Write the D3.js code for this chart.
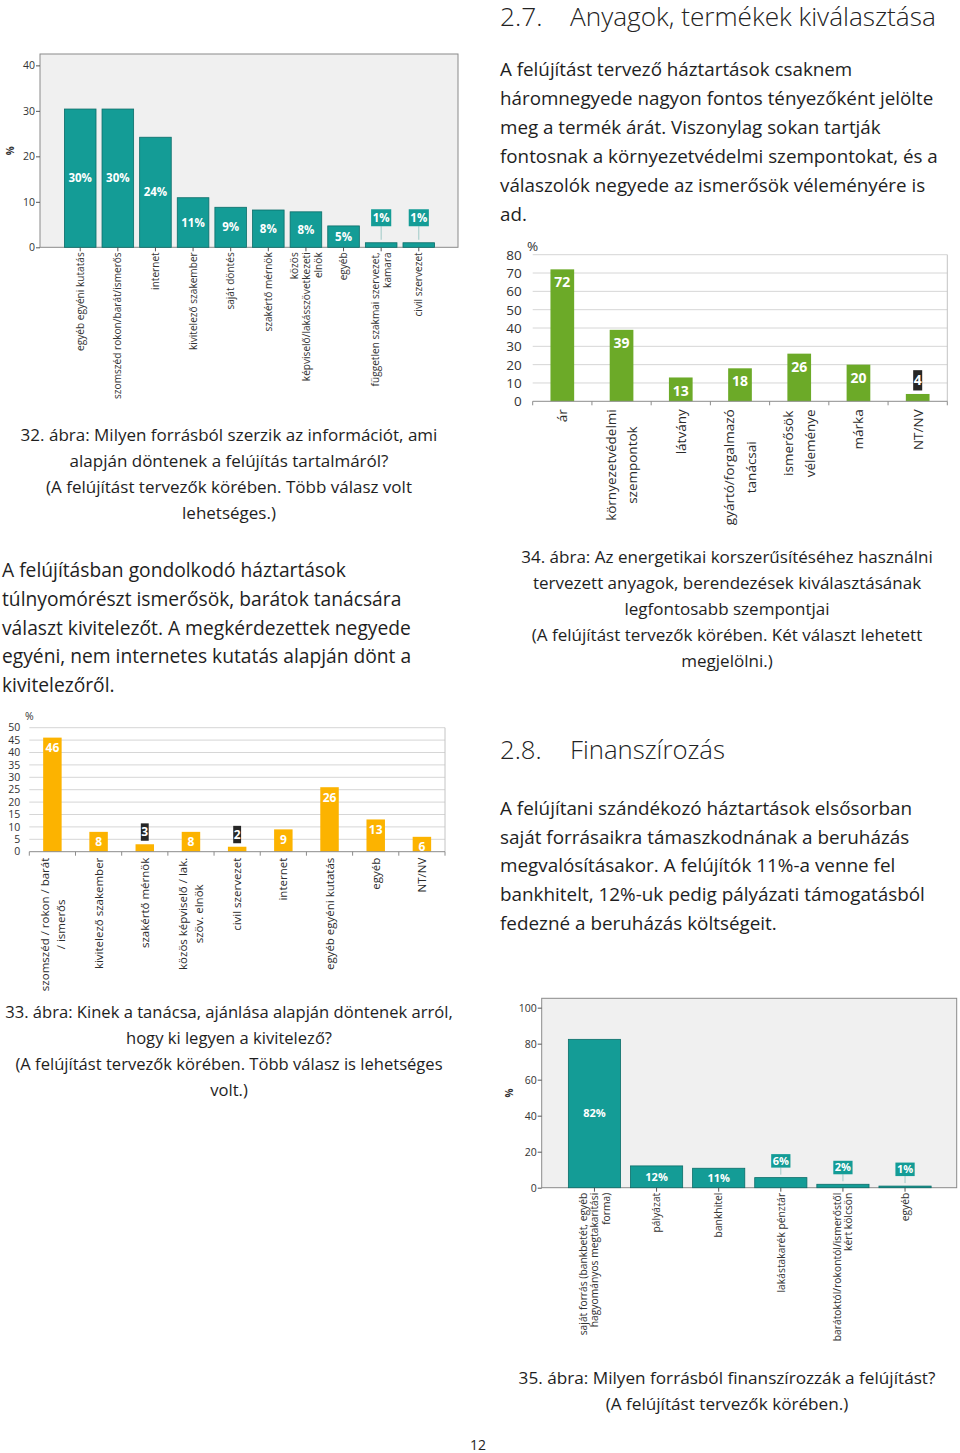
<!DOCTYPE html>
<html><head><meta charset="utf-8">
<script src="https://cdn.jsdelivr.net/npm/d3@7"></script>
<style>body{margin:0;background:#fff} svg{display:block}</style>
</head><body>
<svg id="page" width="960" height="1453"></svg>
<script>
// ---------- DATA ----------
const c32Cats = [["egyéb egyéni kutatás"],["szomszéd rokon/barát/ismerős"],["internet"],["kivitelező szakember"],["saját döntés"],["szakértő mérnök"],["közös","képviselő/lakásszövetkezeti","elnök"],["egyéb"],["független szakmai szervezet,","kamara"],["civil szervezet"]];
const c32Vals = [30.4,30.4,24.2,10.9,8.8,8.2,7.8,4.7,1.0,1.0];
const c32Ticks = [0,10,20,30,40];

const c34Cats = [["ár"],["környezetvédelmi","szempontok"],["látvány"],["gyártó/forgalmazó","tanácsai"],["ismerősök","véleménye"],["márka"],["NT/NV"]];
const c34Vals = [72,39,13,18,26,20,4];
const c34Ticks = [0,10,20,30,40,50,60,70,80];

const c33Cats = [["szomszéd / rokon / barát","/ ismerős"],["kivitelező szakember"],["szakértő mérnök"],["közös képviselő / lak.","szöv. elnök"],["civil szervezet"],["internet"],["egyéb egyéni kutatás"],["egyéb"],["NT/NV"]];
const c33Vals = [46,8,3,8,2,9,26,13,6];
const c33Ticks = [0,5,10,15,20,25,30,35,40,45,50];

const c35Cats = [["saját forrás (bankbetét, egyéb","hagyományos megtakarítási","forma)"],["pályázat"],["bankhitel"],["lakástakarék pénztár"],["barátoktól/rokontól/ismerőstől","kért kölcsön"],["egyéb"]];
const c35Vals = [82.4,12.1,10.8,5.6,1.9,0.9];
const c35Ticks = [0,20,40,60,80,100];

// ---------- TEXT ----------
const heading1 = ["2.7.", "Anyagok, termékek kiválasztása"];
const heading2 = ["2.8.", "Finanszírozás"];
const para1 = ["A felújítást tervező háztartások csaknem","háromnegyede nagyon fontos tényezőként jelölte","meg a termék árát. Viszonylag sokan tartják","fontosnak a környezetvédelmi szempontokat, és a","válaszolók negyede az ismerősök véleményére is","ad."];
const para2 = ["A felújításban gondolkodó háztartások","túlnyomórészt ismerősök, barátok tanácsára","választ kivitelezőt. A megkérdezettek negyede","egyéni, nem internetes kutatás alapján dönt a","kivitelezőről."];
const para3 = ["A felújítani szándékozó háztartások elsősorban","saját forrásaikra támaszkodnának a beruházás","megvalósításakor. A felújítók 11%-a venne fel","bankhitelt, 12%-uk pedig pályázati támogatásból","fedezné a beruházás költségeit."];
const cap32 = ["32. ábra: Milyen forrásból szerzik az információt, ami","alapján döntenek a felújítás tartalmáról?","(A felújítást tervezők körében. Több válasz volt","lehetséges.)"];
const cap34 = ["34. ábra: Az energetikai korszerűsítéséhez használni","tervezett anyagok, berendezések kiválasztásának","legfontosabb szempontjai","(A felújítást tervezők körében. Két választ lehetett","megjelölni.)"];
const cap33 = ["33. ábra: Kinek a tanácsa, ajánlása alapján döntenek arról,","hogy ki legyen a kivitelező?","(A felújítást tervezők körében. Több válasz is lehetséges","volt.)"];
const cap35 = ["35. ábra: Milyen forrásból finanszírozzák a felújítást?","(A felújítást tervezők körében.)"];
const pageNum = "12";

// ---------- STYLE ----------
const FONT = "'Open Sans', 'Noto Sans', sans-serif";
const TEAL = "#149c96", TEAL_D = "#0b6d69";
const GREEN = "#6caa28", ORANGE = "#fcb300", DARK = "#262626";
const page = d3.select("#page").attr("font-family", FONT);

function textBlock(lines, o) {
  const g = page.append("g").attr("fill", o.fill || "#1e1e1e").attr("font-weight", o.weight || 400);
  const t = g.selectAll("text").data(lines).join("text")
    .attr("x", o.x).attr("y", (d, i) => o.y + i * o.lh)
    .attr("text-anchor", o.anchor || "start").attr("font-size", o.fs).text(d => d);
  if (o.refW) {
    const len = t.nodes()[o.ref || 0].getComputedTextLength();
    t.attr("font-size", o.fs * o.refW / len);
  }
  return t;
}

// headings
function heading(h, y, w) {
  const t = textBlock([h[1]], {x: 570, y: y, lh: 0, fs: 26, weight: 300, refW: w, fill: "#222"});
  const fs = +t.attr("font-size");
  textBlock([h[0]], {x: 500, y: y, lh: 0, fs: fs, weight: 300, fill: "#222"});
}
heading(heading1, 26, 366);
heading(heading2, 759, 155);

textBlock(para1, {x: 500, y: 76, lh: 29, fs: 18, ref: 3, refW: 438});
textBlock(para2, {x: 2, y: 577, lh: 28.8, fs: 18, ref: 2, refW: 409});
textBlock(para3, {x: 500, y: 815, lh: 28.7, fs: 18, ref: 3, refW: 425});
textBlock(cap32, {x: 229, y: 441, lh: 26, fs: 17, anchor: "middle", ref: 0, refW: 417});
textBlock(cap34, {x: 727, y: 563, lh: 26, fs: 17, anchor: "middle", ref: 0, refW: 412});
textBlock(cap33, {x: 229, y: 1018, lh: 26, fs: 17, anchor: "middle", ref: 0, refW: 448});
textBlock(cap35, {x: 727, y: 1384, lh: 26, fs: 17, anchor: "middle", ref: 0, refW: 417});
textBlock([pageNum], {x: 478, y: 1450, lh: 0, fs: 14, anchor: "middle"});

// ---------- SPSS-style chart (32, 35) ----------
function spssChart(o) {
  const g = page.append("g");
  const y = d3.scaleLinear().domain([0, o.yMax]).range([o.bottom, o.top]);
  const x = d3.scaleBand().domain(o.cats.map((d, i) => i)).range(o.band).paddingInner(0.16).paddingOuter(0.08);
  g.append("rect").attr("x", o.left).attr("y", o.top).attr("width", o.right - o.left).attr("height", o.bottom - o.top)
    .attr("fill", "#f0f0f0").attr("stroke", "#8a8a8a").attr("stroke-width", 1);
  const ax = g.append("g").attr("transform", `translate(${o.left},0)`)
    .call(d3.axisLeft(y).tickValues(o.ticks).tickSize(4).tickPadding(1));
  ax.select(".domain").remove();
  ax.selectAll(".tick line").attr("stroke", "#555");
  ax.selectAll(".tick text").attr("font-size", o.tickFs).attr("fill", "#333").attr("font-family", FONT);
  g.append("text").attr("transform", `translate(${o.pctX},${(o.top + o.bottom) / 2}) rotate(-90)`)
    .attr("text-anchor", "middle").attr("font-size", 10).attr("font-weight", 700).attr("fill", "#333").text("%");
  // bars
  g.selectAll("rect.bar").data(o.vals).join("rect").attr("class", "bar")
    .attr("x", (d, i) => x(i)).attr("width", x.bandwidth())
    .attr("y", d => y(d)).attr("height", d => o.bottom - y(d))
    .attr("fill", TEAL).attr("stroke", TEAL_D).attr("stroke-width", 0.8);
  // labels
  o.vals.forEach((v, i) => {
    const cx = x(i) + x.bandwidth() / 2, top = y(v), h = o.bottom - top;
    const lab = Math.round(v) + "%";
    if (h >= 15) {
      g.append("text").attr("x", cx).attr("y", (top + o.bottom) / 2 + o.labFs * 0.36)
        .attr("text-anchor", "middle").attr("font-size", o.labFs).attr("font-weight", 700).attr("fill", "#fff").text(lab);
    } else {
      const bh = o.boxH, bw = o.labFs * 1.75;
      const by = top - o.boxGap - bh;
      g.append("line").attr("x1", cx).attr("x2", cx).attr("y1", by + bh).attr("y2", top - 3)
        .attr("stroke", "#9ec9c6").attr("stroke-width", 1);
      g.append("rect").attr("x", cx - bw / 2).attr("y", by).attr("width", bw).attr("height", bh).attr("fill", TEAL);
      g.append("text").attr("x", cx).attr("y", by + bh / 2 + o.labFs * 0.36)
        .attr("text-anchor", "middle").attr("font-size", o.labFs).attr("font-weight", 700).attr("fill", "#fff").text(lab);
    }
  });
  // x ticks + labels
  o.cats.forEach((lines, i) => {
    const cx = x(i) + x.bandwidth() / 2;
    g.append("line").attr("x1", cx).attr("x2", cx).attr("y1", o.bottom).attr("y2", o.bottom + 4).attr("stroke", "#555");
    const lg = g.append("g").attr("transform", `translate(${cx},${o.bottom + 5}) rotate(-90)`);
    const n = lines.length;
    lines.forEach((s, j) => {
      lg.append("text").attr("x", 0).attr("y", (j - (n - 1) / 2) * o.catLh + o.catFs * 0.36)
        .attr("text-anchor", "end").attr("font-size", o.catFs).attr("fill", "#333").text(s);
    });
  });
}

spssChart({cats: c32Cats, vals: c32Vals, ticks: c32Ticks, yMax: 42.5,
  left: 40, right: 458, top: 54, bottom: 247.3, band: [61.4, 437.6], tickFs: 10.5, pctX: 14,
  labFs: 11.5, boxH: 17, boxGap: 16.5, catFs: 10.1, catLh: 12});
spssChart({cats: c35Cats, vals: c35Vals, ticks: c35Ticks, yMax: 105.2,
  left: 541.7, right: 956.7, top: 998.3, bottom: 1187.7, band: [563.4, 936.1], tickFs: 10.5, pctX: 513,
  labFs: 11, boxH: 13.5, boxGap: 10, catFs: 10.3, catLh: 11.5});

// ---------- Excel-style chart (34, 33) ----------
function excelChart(o) {
  const g = page.append("g");
  const y = d3.scaleLinear().domain([0, o.ticks[o.ticks.length - 1]]).range([o.bottom, o.top]);
  const x = d3.scaleBand().domain(o.cats.map((d, i) => i)).range([o.left, o.right]).padding(0);
  const step = x.bandwidth(), bw = step * 0.4;
  // grid
  g.selectAll("line.grid").data(o.ticks.slice(1)).join("line").attr("class", "grid")
    .attr("x1", o.left).attr("x2", o.right).attr("y1", d => y(d)).attr("y2", d => y(d))
    .attr("stroke", "#d6d6d6").attr("stroke-width", 1);
  g.append("line").attr("x1", o.right).attr("x2", o.right).attr("y1", o.top).attr("y2", o.bottom)
    .attr("stroke", "#c4c4c4");
  // y labels
  g.selectAll("text.yt").data(o.ticks).join("text").attr("class", "yt")
    .attr("x", o.left - o.tickGap).attr("y", d => y(d) + o.tickFs * 0.36)
    .attr("text-anchor", "end").attr("font-size", o.tickFs).attr("fill", "#333").text(d => d);
  g.append("text").attr("x", o.left).attr("y", o.top - o.pctGap).attr("text-anchor", "middle")
    .attr("font-size", o.tickFs).attr("fill", "#333").text("%");
  // bars
  g.selectAll("rect.bar").data(o.vals).join("rect").attr("class", "bar")
    .attr("x", (d, i) => x(i) + (step - bw) / 2).attr("width", bw)
    .attr("y", d => y(d)).attr("height", d => o.bottom - y(d)).attr("fill", o.color);
  // axis line + ticks
  g.append("line").attr("x1", o.left).attr("x2", o.right).attr("y1", o.bottom).attr("y2", o.bottom).attr("stroke", "#8c8c8c");
  const bounds = o.cats.map((d, i) => x(i)).concat([x(o.cats.length - 1) + step]);
  g.selectAll("line.xt").data(bounds).join("line").attr("class", "xt")
    .attr("x1", d => d).attr("x2", d => d).attr("y1", o.bottom).attr("y2", o.bottom + 4).attr("stroke", "#8c8c8c");
  // value labels
  o.vals.forEach((v, i) => {
    const cx = x(i) + step / 2, top = y(v), h = o.bottom - top;
    if (h >= 10) {
      g.append("text").attr("x", cx).attr("y", top + o.labOff + o.labFs * 0.36)
        .attr("text-anchor", "middle").attr("font-size", o.labFs).attr("font-weight", 700).attr("fill", "#fff").text(v);
    } else {
      const t = g.append("text").attr("x", cx).attr("text-anchor", "middle").attr("font-size", o.labFs)
        .attr("font-weight", 700).attr("fill", "#fff").text(v);
      const tw = t.node().getComputedTextLength();
      const bh = o.labFs * 1.45, cy = top - bh / 2 - 3.5;
      g.insert("rect", () => t.node()).attr("x", cx - tw / 2 - 0.5).attr("y", cy - bh / 2).attr("width", tw + 1).attr("height", bh).attr("fill", DARK);
      t.attr("y", cy + o.labFs * 0.36);
    }
  });
  // category labels (wrapped, centered lines, top aligned block)
  o.cats.forEach((lines, i) => {
    const cx = x(i) + step / 2;
    const lg = g.append("g").attr("transform", `translate(${cx},${o.bottom + o.catTop}) rotate(-90)`);
    const n = lines.length;
    const ts = lines.map((s, j) => lg.append("text").attr("y", (j - (n - 1) / 2) * o.catLh + o.catFs * 0.36)
      .attr("text-anchor", "middle").attr("font-size", o.catFs).attr("fill", "#2a2a2a").text(s));
    const maxL = d3.max(ts, t => t.node().getComputedTextLength());
    ts.forEach(t => t.attr("x", -maxL / 2));
  });
}

excelChart({cats: c34Cats, vals: c34Vals, ticks: c34Ticks, color: GREEN,
  left: 532.7, right: 947.3, top: 254.7, bottom: 401.3, tickFs: 13.5, tickGap: 11, pctGap: 4,
  labFs: 14, labOff: 13, catFs: 13.5, catLh: 21.5, catTop: 8});
excelChart({cats: c33Cats, vals: c33Vals, ticks: c33Ticks, color: ORANGE,
  left: 29.3, right: 445, top: 727.7, bottom: 851.7, tickFs: 10.5, tickGap: 9, pctGap: 8,
  labFs: 12, labOff: 10, catFs: 11.5, catLh: 16, catTop: 6});
</script>
</body></html>
